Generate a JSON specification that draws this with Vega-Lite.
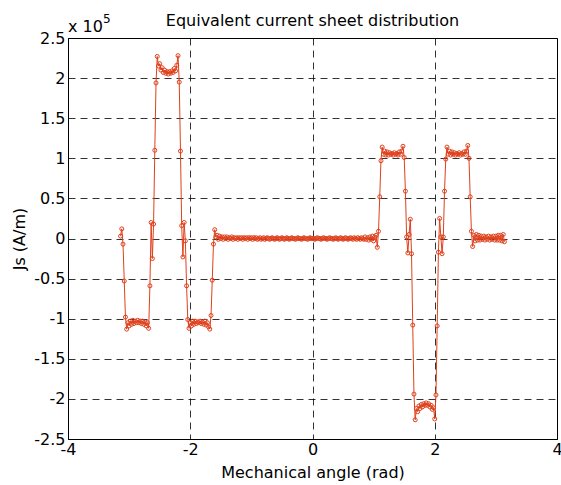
{
  "$schema": "https://vega.github.io/schema/vega-lite/v6.json",
  "width": 489,
  "height": 401,
  "autosize": "none",
  "padding": {"left": 68, "top": 38, "right": 4, "bottom": 46},
  "background": "white",
  "title": {"text": "Equivalent current sheet distribution", "fontSize": 16, "fontWeight": "normal", "font": "DejaVu Sans", "color": "black", "baseline": "alphabetic", "offset": -11, "dy": 18},
  "config": {
    "view": {"stroke": "black", "strokeWidth": 1},
    "axis": {
      "labelFont": "DejaVu Sans", "labelFontSize": 16, "labelColor": "black",
      "titleFont": "DejaVu Sans", "titleFontSize": 16, "titleFontWeight": "normal", "titleColor": "black",
      "domainColor": "black", "ticks": false,
      "grid": true, "gridColor": "black", "gridOpacity": 0.8, "gridDash": [7, 5], "gridWidth": 1,
      "labelFlush": false, "labelOverlap": false, "labelBound": false
    }
  },
  "data": {"values": [
    {"angle": -3.14, "js": 0.03}, {"angle": -3.12, "js": 0.12}, {"angle": -3.10, "js": -0.07}, {"angle": -3.08, "js": -0.53},
    {"angle": -3.06, "js": -0.98}, {"angle": -3.04, "js": -1.13}, {"angle": -3.02, "js": -1.05}, {"angle": -3.00, "js": -1.09},
    {"angle": -2.98, "js": -1.03}, {"angle": -2.96, "js": -1.07}, {"angle": -2.94, "js": -1.02}, {"angle": -2.92, "js": -1.06},
    {"angle": -2.90, "js": -1.03}, {"angle": -2.88, "js": -1.05}, {"angle": -2.86, "js": -1.02}, {"angle": -2.84, "js": -1.05},
    {"angle": -2.82, "js": -1.03}, {"angle": -2.80, "js": -1.06}, {"angle": -2.78, "js": -1.03}, {"angle": -2.76, "js": -1.07},
    {"angle": -2.74, "js": -1.04}, {"angle": -2.72, "js": -1.09}, {"angle": -2.70, "js": -1.05}, {"angle": -2.68, "js": -1.12},
    {"angle": -2.66, "js": -0.59}, {"angle": -2.64, "js": 0.20}, {"angle": -2.62, "js": -0.25}, {"angle": -2.60, "js": 0.18},
    {"angle": -2.58, "js": 1.10}, {"angle": -2.56, "js": 1.94}, {"angle": -2.54, "js": 2.27}, {"angle": -2.52, "js": 2.15},
    {"angle": -2.50, "js": 2.18}, {"angle": -2.48, "js": 2.10}, {"angle": -2.46, "js": 2.13}, {"angle": -2.44, "js": 2.07},
    {"angle": -2.42, "js": 2.10}, {"angle": -2.40, "js": 2.06}, {"angle": -2.38, "js": 2.08}, {"angle": -2.36, "js": 2.05},
    {"angle": -2.34, "js": 2.08}, {"angle": -2.32, "js": 2.06}, {"angle": -2.30, "js": 2.09}, {"angle": -2.28, "js": 2.07},
    {"angle": -2.26, "js": 2.12}, {"angle": -2.24, "js": 2.09}, {"angle": -2.22, "js": 2.16}, {"angle": -2.20, "js": 2.28},
    {"angle": -2.18, "js": 1.95}, {"angle": -2.16, "js": 1.09}, {"angle": -2.14, "js": 0.16}, {"angle": -2.12, "js": -0.23},
    {"angle": -2.10, "js": 0.20}, {"angle": -2.08, "js": -0.03}, {"angle": -2.06, "js": -0.59}, {"angle": -2.04, "js": -1.01},
    {"angle": -2.02, "js": -1.12}, {"angle": -2.00, "js": -1.05}, {"angle": -1.98, "js": -1.09}, {"angle": -1.96, "js": -1.03},
    {"angle": -1.94, "js": -1.07}, {"angle": -1.92, "js": -1.03}, {"angle": -1.90, "js": -1.06}, {"angle": -1.88, "js": -1.04},
    {"angle": -1.86, "js": -1.05}, {"angle": -1.84, "js": -1.03}, {"angle": -1.82, "js": -1.06}, {"angle": -1.80, "js": -1.04},
    {"angle": -1.78, "js": -1.07}, {"angle": -1.76, "js": -1.03}, {"angle": -1.74, "js": -1.08}, {"angle": -1.72, "js": -1.05},
    {"angle": -1.70, "js": -1.10}, {"angle": -1.68, "js": -1.13}, {"angle": -1.66, "js": -0.96}, {"angle": -1.64, "js": -0.52},
    {"angle": -1.62, "js": -0.07}, {"angle": -1.60, "js": 0.11}, {"angle": -1.58, "js": 0.02}, {"angle": -1.56, "js": 0.04},
    {"angle": -1.54, "js": -0.01}, {"angle": -1.52, "js": 0.03}, {"angle": -1.50, "js": 0.00}, {"angle": -1.48, "js": 0.02},
    {"angle": -1.46, "js": -0.01}, {"angle": -1.44, "js": 0.02}, {"angle": -1.42, "js": 0.00}, {"angle": -1.40, "js": 0.02},
    {"angle": -1.38, "js": -0.01}, {"angle": -1.36, "js": 0.01}, {"angle": -1.34, "js": 0.00}, {"angle": -1.32, "js": 0.02},
    {"angle": -1.30, "js": -0.01}, {"angle": -1.28, "js": 0.01}, {"angle": -1.26, "js": 0.00}, {"angle": -1.24, "js": 0.01},
    {"angle": -1.22, "js": -0.01}, {"angle": -1.20, "js": 0.01}, {"angle": -1.18, "js": 0.00}, {"angle": -1.16, "js": 0.01},
    {"angle": -1.14, "js": -0.01}, {"angle": -1.12, "js": 0.01}, {"angle": -1.10, "js": 0.00}, {"angle": -1.08, "js": 0.01},
    {"angle": -1.06, "js": -0.01}, {"angle": -1.04, "js": 0.01}, {"angle": -1.02, "js": 0.00}, {"angle": -1.00, "js": 0.01},
    {"angle": -0.98, "js": -0.01}, {"angle": -0.96, "js": 0.01}, {"angle": -0.94, "js": 0.00}, {"angle": -0.92, "js": 0.01},
    {"angle": -0.90, "js": -0.01}, {"angle": -0.88, "js": 0.00}, {"angle": -0.86, "js": 0.01}, {"angle": -0.84, "js": -0.01},
    {"angle": -0.82, "js": 0.00}, {"angle": -0.80, "js": 0.01}, {"angle": -0.78, "js": -0.01}, {"angle": -0.76, "js": 0.00},
    {"angle": -0.74, "js": 0.01}, {"angle": -0.72, "js": 0.00}, {"angle": -0.70, "js": -0.01}, {"angle": -0.68, "js": 0.00},
    {"angle": -0.66, "js": 0.01}, {"angle": -0.64, "js": 0.00}, {"angle": -0.62, "js": -0.01}, {"angle": -0.60, "js": 0.00},
    {"angle": -0.58, "js": 0.01}, {"angle": -0.56, "js": 0.00}, {"angle": -0.54, "js": -0.01}, {"angle": -0.52, "js": 0.00},
    {"angle": -0.50, "js": 0.01}, {"angle": -0.48, "js": 0.00}, {"angle": -0.46, "js": -0.01}, {"angle": -0.44, "js": 0.00},
    {"angle": -0.42, "js": 0.01}, {"angle": -0.40, "js": 0.00}, {"angle": -0.38, "js": -0.01}, {"angle": -0.36, "js": 0.00},
    {"angle": -0.34, "js": 0.01}, {"angle": -0.32, "js": 0.00}, {"angle": -0.30, "js": 0.00}, {"angle": -0.28, "js": -0.01},
    {"angle": -0.26, "js": 0.00}, {"angle": -0.24, "js": 0.01}, {"angle": -0.22, "js": 0.00}, {"angle": -0.20, "js": 0.00},
    {"angle": -0.18, "js": -0.01}, {"angle": -0.16, "js": 0.00}, {"angle": -0.14, "js": 0.01}, {"angle": -0.12, "js": 0.00},
    {"angle": -0.10, "js": 0.00}, {"angle": -0.08, "js": -0.01}, {"angle": -0.06, "js": 0.00}, {"angle": -0.04, "js": 0.01},
    {"angle": -0.02, "js": 0.00}, {"angle": 0.00, "js": 0.00}, {"angle": 0.02, "js": 0.00}, {"angle": 0.04, "js": -0.01},
    {"angle": 0.06, "js": 0.00}, {"angle": 0.08, "js": 0.01}, {"angle": 0.10, "js": 0.00}, {"angle": 0.12, "js": 0.00},
    {"angle": 0.14, "js": -0.01}, {"angle": 0.16, "js": 0.00}, {"angle": 0.18, "js": 0.01}, {"angle": 0.20, "js": 0.00},
    {"angle": 0.22, "js": 0.00}, {"angle": 0.24, "js": -0.01}, {"angle": 0.26, "js": 0.00}, {"angle": 0.28, "js": 0.01},
    {"angle": 0.30, "js": 0.00}, {"angle": 0.32, "js": 0.00}, {"angle": 0.34, "js": -0.01}, {"angle": 0.36, "js": 0.00},
    {"angle": 0.38, "js": 0.01}, {"angle": 0.40, "js": 0.00}, {"angle": 0.42, "js": -0.01}, {"angle": 0.44, "js": 0.00},
    {"angle": 0.46, "js": 0.01}, {"angle": 0.48, "js": 0.00}, {"angle": 0.50, "js": -0.01}, {"angle": 0.52, "js": 0.00},
    {"angle": 0.54, "js": 0.01}, {"angle": 0.56, "js": 0.00}, {"angle": 0.58, "js": -0.01}, {"angle": 0.60, "js": 0.00},
    {"angle": 0.62, "js": 0.01}, {"angle": 0.64, "js": 0.00}, {"angle": 0.66, "js": -0.01}, {"angle": 0.68, "js": 0.01},
    {"angle": 0.70, "js": 0.00}, {"angle": 0.72, "js": -0.01}, {"angle": 0.74, "js": 0.01}, {"angle": 0.76, "js": 0.00},
    {"angle": 0.78, "js": -0.01}, {"angle": 0.80, "js": 0.01}, {"angle": 0.82, "js": 0.00}, {"angle": 0.84, "js": -0.01},
    {"angle": 0.86, "js": 0.02}, {"angle": 0.88, "js": -0.01}, {"angle": 0.90, "js": 0.01}, {"angle": 0.92, "js": -0.02},
    {"angle": 0.94, "js": 0.02}, {"angle": 0.96, "js": -0.01}, {"angle": 0.98, "js": 0.03}, {"angle": 1.00, "js": -0.03},
    {"angle": 1.02, "js": 0.02}, {"angle": 1.04, "js": 0.04}, {"angle": 1.06, "js": -0.11}, {"angle": 1.08, "js": 0.09},
    {"angle": 1.10, "js": 0.52}, {"angle": 1.12, "js": 0.97}, {"angle": 1.14, "js": 1.14}, {"angle": 1.16, "js": 1.05},
    {"angle": 1.18, "js": 1.09}, {"angle": 1.20, "js": 1.04}, {"angle": 1.22, "js": 1.08}, {"angle": 1.24, "js": 1.04},
    {"angle": 1.26, "js": 1.07}, {"angle": 1.28, "js": 1.05}, {"angle": 1.30, "js": 1.06}, {"angle": 1.32, "js": 1.04},
    {"angle": 1.34, "js": 1.07}, {"angle": 1.36, "js": 1.05}, {"angle": 1.38, "js": 1.06}, {"angle": 1.40, "js": 1.04},
    {"angle": 1.42, "js": 1.08}, {"angle": 1.44, "js": 1.05}, {"angle": 1.46, "js": 1.09}, {"angle": 1.48, "js": 1.15},
    {"angle": 1.50, "js": 1.01}, {"angle": 1.52, "js": 0.59}, {"angle": 1.54, "js": 0.02}, {"angle": 1.56, "js": -0.18},
    {"angle": 1.58, "js": 0.05}, {"angle": 1.60, "js": 0.24}, {"angle": 1.62, "js": -0.19}, {"angle": 1.64, "js": -1.08},
    {"angle": 1.66, "js": -1.94}, {"angle": 1.68, "js": -2.26}, {"angle": 1.70, "js": -2.12}, {"angle": 1.72, "js": -2.16},
    {"angle": 1.74, "js": -2.09}, {"angle": 1.76, "js": -2.12}, {"angle": 1.78, "js": -2.07}, {"angle": 1.80, "js": -2.10},
    {"angle": 1.82, "js": -2.06}, {"angle": 1.84, "js": -2.08}, {"angle": 1.86, "js": -2.05}, {"angle": 1.88, "js": -2.08},
    {"angle": 1.90, "js": -2.06}, {"angle": 1.92, "js": -2.10}, {"angle": 1.94, "js": -2.08}, {"angle": 1.96, "js": -2.13},
    {"angle": 1.98, "js": -2.11}, {"angle": 2.00, "js": -2.25}, {"angle": 2.02, "js": -1.95}, {"angle": 2.04, "js": -1.09},
    {"angle": 2.06, "js": -0.17}, {"angle": 2.08, "js": 0.25}, {"angle": 2.10, "js": 0.02}, {"angle": 2.12, "js": -0.19},
    {"angle": 2.14, "js": 0.02}, {"angle": 2.16, "js": 0.59}, {"angle": 2.18, "js": 0.99}, {"angle": 2.20, "js": 1.14},
    {"angle": 2.22, "js": 1.05}, {"angle": 2.24, "js": 1.09}, {"angle": 2.26, "js": 1.04}, {"angle": 2.28, "js": 1.08},
    {"angle": 2.30, "js": 1.05}, {"angle": 2.32, "js": 1.07}, {"angle": 2.34, "js": 1.04}, {"angle": 2.36, "js": 1.06},
    {"angle": 2.38, "js": 1.05}, {"angle": 2.40, "js": 1.07}, {"angle": 2.42, "js": 1.04}, {"angle": 2.44, "js": 1.06},
    {"angle": 2.46, "js": 1.05}, {"angle": 2.48, "js": 1.08}, {"angle": 2.50, "js": 1.05}, {"angle": 2.52, "js": 1.09},
    {"angle": 2.54, "js": 1.16}, {"angle": 2.56, "js": 1.00}, {"angle": 2.58, "js": 0.52}, {"angle": 2.60, "js": 0.09},
    {"angle": 2.62, "js": -0.10}, {"angle": 2.64, "js": 0.04}, {"angle": 2.66, "js": -0.03}, {"angle": 2.68, "js": 0.05},
    {"angle": 2.70, "js": -0.02}, {"angle": 2.72, "js": 0.04}, {"angle": 2.74, "js": -0.02}, {"angle": 2.76, "js": 0.03},
    {"angle": 2.78, "js": -0.01}, {"angle": 2.80, "js": 0.03}, {"angle": 2.82, "js": -0.02}, {"angle": 2.84, "js": 0.02},
    {"angle": 2.86, "js": -0.01}, {"angle": 2.88, "js": 0.03}, {"angle": 2.90, "js": -0.02}, {"angle": 2.92, "js": 0.02},
    {"angle": 2.94, "js": -0.01}, {"angle": 2.96, "js": 0.03}, {"angle": 2.98, "js": -0.02}, {"angle": 3.00, "js": 0.03},
    {"angle": 3.02, "js": -0.02}, {"angle": 3.04, "js": 0.04}, {"angle": 3.06, "js": -0.02}, {"angle": 3.08, "js": 0.04},
    {"angle": 3.10, "js": -0.03}, {"angle": 3.12, "js": 0.05}, {"angle": 3.14, "js": -0.04}
  ]},
  "layer": [
    {
      "mark": {"type": "line", "color": "#E0401C", "strokeWidth": 1, "clip": true,
        "point": {"filled": false, "size": 16, "color": "#E0401C", "strokeWidth": 1}},
      "encoding": {
        "x": {"field": "angle", "type": "quantitative",
          "scale": {"domain": [-4, 4], "nice": false, "zero": false},
          "axis": {"values": [-4, -2, 0, 2, 4], "title": "Mechanical angle (rad)", "labelPadding": 2, "titlePadding": 7, "labelExpr": "'' + datum.value"}},
        "y": {"field": "js", "type": "quantitative",
          "scale": {"domain": [-2.5, 2.5], "nice": false, "zero": false},
          "axis": {"values": [-2.5, -2, -1.5, -1, -0.5, 0, 0.5, 1, 1.5, 2, 2.5], "title": "Js (A/m)", "labelPadding": 3, "titlePadding": 6, "labelExpr": "'' + datum.value"}}
      }
    },
    {
      "data": {"values": [{}]},
      "mark": {"type": "text", "text": "x 10", "font": "DejaVu Sans", "fontSize": 16, "align": "left", "baseline": "alphabetic", "dy": -6, "color": "black"},
      "encoding": {"x": {"datum": -4}, "y": {"datum": 2.5}}
    },
    {
      "data": {"values": [{}]},
      "mark": {"type": "text", "text": "5", "font": "DejaVu Sans", "fontSize": 12, "align": "left", "baseline": "alphabetic", "dx": 35, "dy": -15, "color": "black"},
      "encoding": {"x": {"datum": -4}, "y": {"datum": 2.5}}
    }
  ]
}
